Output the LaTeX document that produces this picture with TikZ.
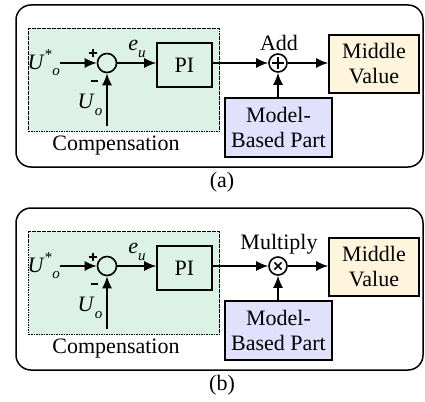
\documentclass[tikz,border=0pt]{standalone}
\usepackage{fontspec}
\setmainfont{Liberation Serif}
\usetikzlibrary{arrows.meta}
\definecolor{cgreen}{HTML}{DDF2E6}
\definecolor{ccream}{HTML}{FFF5DD}
\definecolor{clav}{HTML}{E1E1FD}
\newcommand{\mysupx}[1]{\raisebox{0.42em}{\fontsize{15}{15}\selectfont #1}}
\newcommand{\mysubx}[1]{\raisebox{-0.3em}{\fontsize{15}{15}\selectfont #1}}
\tikzset{
  frame/.style={draw, line width=1.5pt, rounded corners=15pt},
  compbox/.style={draw, line width=1pt, dash pattern=on 1.6pt off 0.9pt, fill=cgreen, anchor=north west, inner sep=0pt},
  blk/.style={draw, line width=1.6pt, inner sep=0pt, align=center},
  sumc/.style={draw, circle, line width=1.6pt, inner sep=0pt},
  sig/.style={line width=1.6pt, -{Latex[length=12pt,width=10pt]}},
  sgn/.style={line width=2pt},
  txt/.style={inner sep=0pt},
}
\begin{document}
\begin{tikzpicture}[x=1pt,y=-1pt,font=\fontsize{22}{25}\selectfont]
\useasboundingbox (0,0) rectangle (425,401);
\foreach \p/\dy/\lab/\cap/\ang/\arm in {a/0/Add/(a)/0/6, b/203/Multiply/(b)/45/5}{
\begin{scope}[shift={(0,\dy)}]
  \draw[frame] (16,5) rectangle (423,167);
  \node[compbox, minimum width=191pt, minimum height=103pt] (comp\p) at (28,28) {};
  \node[txt] (cl\p) at (116,146) {Compensation};
  \node[sumc, minimum size=19pt] (s\p) at (107,63) {};
  \node[txt, anchor=east] (ur\p) at (60,63) {\textit{U}\mysupx{*}\mysubx{\textit{o}}};
  \draw[sgn] (88.5,53.5) -- (96.5,53.5) (92.5,49.5) -- (92.5,57.5);
  \draw[sgn] (90.5,81) -- (98,81);
  \node[txt] (uo\p) at (90,105) {\textit{U}\mysubx{\textit{o}}};
  \coordinate (uob\p) at (107,126);
  \node[blk, fill=cgreen, minimum width=55pt, minimum height=44pt] (pi\p) at (184.5,65) {PI};
  \node[txt] (eu\p) at (137,49) {\textit{e}\mysubx{\textit{u}}};
  \node[sumc, minimum size=18pt] (op\p) at (278,63) {};
  \draw[line width=1.5pt] (op\p.center) ++(\ang:\arm) -- ++(\ang+180:2*\arm);
  \draw[line width=1.5pt] (op\p.center) ++(\ang+90:\arm) -- ++(\ang+270:2*\arm);
  \node[txt, anchor=south] (ol\p) at (279,51) {\lab};
  \node[blk, fill=ccream, minimum width=90pt, minimum height=58pt] (mv\p) at (374,64) {Middle\\Value};
  \node[blk, fill=clav, minimum width=107pt, minimum height=59pt] (mb\p) at (278.5,127.5) {Model-\\Based Part};
  \node[txt] (cap\p) at (222,182) {\cap};
  \draw[sig] (ur\p.east) -- (s\p.west);
  \draw[sig] (uob\p) -- (s\p.south);
  \draw[sig] (s\p.east) -- (pi\p.west |- s\p);
  \draw[sig] (pi\p.east |- op\p) -- (op\p.west);
  \draw[sig] (op\p.east) -- (mv\p.west |- op\p);
  \draw[sig] (op\p |- mb\p.north) -- (op\p.south);
\end{scope}
}
\end{tikzpicture}
\end{document}
